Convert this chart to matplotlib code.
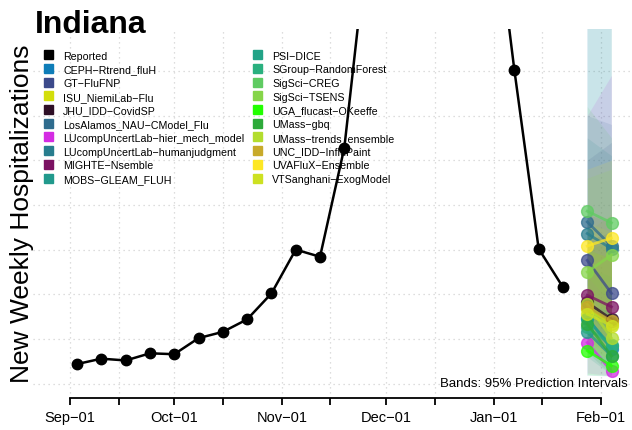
import numpy as np
import matplotlib
matplotlib.use("Agg")
import matplotlib.pyplot as plt
import matplotlib.dates as mdates
from matplotlib.patches import Rectangle

plt.rcParams['font.family'] = ['Liberation Sans', 'DejaVu Sans']

# weekly reported hospitalizations, Indiana
report_dates = np.array(['2022-09-03', '2022-09-10', '2022-09-17', '2022-09-24', '2022-10-01',
                         '2022-10-08', '2022-10-15', '2022-10-22', '2022-10-29', '2022-11-05',
                         '2022-11-12', '2022-11-19', '2022-11-26', '2022-12-03', '2022-12-10',
                         '2022-12-17', '2022-12-24', '2022-12-31', '2023-01-07', '2023-01-14',
                         '2023-01-21'], dtype='datetime64[D]')
reported = [22, 28, 26, 34, 33, 51, 58, 72, 101, 150, 142, 264, 507, 690, 760, 720, 650, 570, 351, 151, 108]

forecast_dates = np.array(['2023-01-28', '2023-02-04'], dtype='datetime64[D]')

models = ['CEPH-Rtrend_fluH', 'GT-FluFNP', 'ISU_NiemiLab-Flu', 'JHU_IDD-CovidSP',
          'LosAlamos_NAU-CModel_Flu', 'LUcompUncertLab-hier_mech_model',
          'LUcompUncertLab-humanjudgment', 'MIGHTE-Nsemble', 'MOBS-GLEAM_FLUH',
          'PSI-DICE', 'SGroup-RandomForest', 'SigSci-CREG', 'SigSci-TSENS',
          'UGA_flucast-OKeeffe', 'UMass-gbq', 'UMass-trends_ensemble',
          'UNC_IDD-InfluPaint', 'UVAFluX-Ensemble', 'VTSanghani-ExogModel']
model_colors = ['#0E7DB8', '#3C4A8B', '#D3DE0B', '#2E0F26', '#2F6C8E', '#D42BE3',
                '#287D8E', '#7B1262', '#21998C', '#22A387', '#2AB07F', '#5FCB62',
                '#86D549', '#22FF00', '#2DAA3A', '#B3DD2E', '#C8AA2A', '#FDE725', '#CDE121']

# point forecasts (median) for the two target weeks
point_wk1 = [74, 138, 84, 91, 181, 46, 168, 99, 58, 72, 63, 193, 125, 37, 67, 89, 86, 154, 78]
point_wk2 = [39, 101, 67, 72, 154, 14, 151, 86, 31, 42, 43, 180, 144, 20, 31, 51, 70, 163, 65]

# 95% prediction intervals
lower_wk1 = [9, 80, 45, 55, 110, 12, 100, 60, 30, 40, 35, 120, 80, 10, 35, 45, 50, 90, 40]
lower_wk2 = [8, 50, 25, 30, 70, 9, 70, 40, 10, 15, 20, 90, 60, 9, 10, 20, 30, 80, 25]
upper_wk1 = [480, 250, 170, 160, 300, 300, 275, 190, 420, 150, 130, 310, 230, 90, 150, 180, 160, 240, 150]
upper_wk2 = [520, 270, 190, 170, 290, 345, 255, 180, 440, 160, 120, 275, 240, 70, 140, 170, 150, 250, 140]

W, H = 632, 431
fig = plt.figure(figsize=(W / 100, H / 100), dpi=100)
ax = fig.add_axes([33 / W, 1 - 399 / H, (W - 33) / W, 369 / H])

# grid
for v in range(0, 400, 50):
    ax.axhline(v, color='#d3d3d3', lw=0.9, ls=(0, (1, 3)), zorder=0)
grid_days = np.array(['2022-09-01', '2022-09-15', '2022-10-01', '2022-10-15', '2022-11-01',
                      '2022-11-15', '2022-12-01', '2022-12-15', '2023-01-01', '2023-01-15',
                      '2023-02-01'], dtype='datetime64[D]')
for d in grid_days:
    ax.axvline(d, color='#d3d3d3', lw=0.9, ls=(0, (1, 3)), zorder=0)

# prediction bands
for i in range(len(models)):
    ax.fill_between(forecast_dates, [lower_wk1[i], lower_wk2[i]], [upper_wk1[i], upper_wk2[i]],
                    color=model_colors[i], alpha=0.12, lw=0, zorder=1)

# point forecasts
for i in range(len(models)):
    ax.plot(forecast_dates, [point_wk1[i], point_wk2[i]], color=model_colors[i], lw=2,
            marker='o', ms=8.5, alpha=0.75, zorder=2)

ax.plot(report_dates, reported, color='black', lw=1.8, marker='o', ms=7.5, zorder=3)

sep1 = mdates.date2num(np.datetime64('2022-09-01'))
feb1 = mdates.date2num(np.datetime64('2023-02-01'))
ppd = (601.1 - 70.2) / (feb1 - sep1)
ax.set_xlim(sep1 - (70.2 - 33) / ppd, feb1 + (632 - 601.1) / ppd)
ax.set_ylim(-16, 396.8)

ax.xaxis.set_major_locator(mdates.MonthLocator())
ax.xaxis.set_minor_locator(mdates.DayLocator(bymonthday=15))
ax.xaxis.set_major_formatter(mdates.DateFormatter('%b\u2212%d'))
ax.tick_params(axis='x', which='both', direction='out', length=5, width=1.3, labelsize=10.5, pad=4)
ax.set_yticks([])
for s in ['top', 'right', 'left']:
    ax.spines[s].set_visible(False)
ax.spines['bottom'].set_bounds(sep1, feb1)
ax.spines['bottom'].set_linewidth(1.3)
ax.patch.set_alpha(0)

fig.text(628 / W, 1 - 387 / H, 'Bands: 95% Prediction Intervals', fontsize=9.5,
         ha='right', va='baseline')

# title and y label
fig.text(35 / W, 1 - 33 / H, 'Indiana', fontsize=23, fontweight='bold', va='baseline')
fig.text(22 / W, 1 - 214 / H, 'New Weekly Hospitalizations', fontsize=19, rotation=90,
         ha='center', va='center')

# legend
leg_names = ['Reported'] + models
leg_colors = ['black'] + model_colors
for i, (nm, cl) in enumerate(zip(leg_names, leg_colors)):
    c, r = divmod(i, 10)
    x0 = 44 + c * 209
    y0 = 55.7 + r * 13.7
    fig.patches.append(Rectangle((x0 / W, 1 - (y0 + 4.5) / H), 9 / W, 9 / H,
                                 transform=fig.transFigure, color=cl, figure=fig))
    fig.text((x0 + 19) / W, 1 - y0 / H, nm.replace('-', '\u2212'), fontsize=7.7,
             va='center_baseline')

fig.savefig('out.png', dpi=100)
